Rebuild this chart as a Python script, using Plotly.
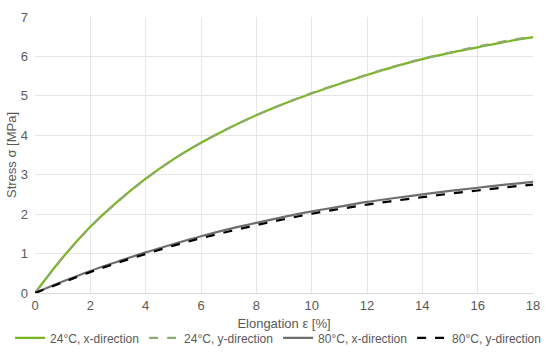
import plotly.graph_objects as go

elongation = list(range(0, 19))
s24_x = [0, 0.90, 1.68, 2.33, 2.90, 3.39, 3.81, 4.18, 4.51, 4.80, 5.06,
         5.30, 5.53, 5.74, 5.93, 6.09, 6.23, 6.37, 6.49]
s24_y = [0, 0.89, 1.67, 2.32, 2.89, 3.39, 3.81, 4.18, 4.51, 4.80, 5.07,
         5.31, 5.54, 5.75, 5.94, 6.10, 6.25, 6.39, 6.51]
s80_x = [0, 0.29, 0.56, 0.80, 1.03, 1.24, 1.44, 1.62, 1.78, 1.93, 2.07,
         2.19, 2.31, 2.41, 2.50, 2.59, 2.67, 2.75, 2.82]
s80_y = [0, 0.27, 0.53, 0.77, 0.99, 1.20, 1.39, 1.56, 1.72, 1.87, 2.01,
         2.13, 2.24, 2.34, 2.43, 2.52, 2.60, 2.68, 2.75]

names = ["24°C, x-direction", "24°C, y-direction", "80°C, x-direction", "80°C, y-direction"]
series = [s24_x, s24_y, s80_x, s80_y]
colors = ["#77B81F", "#8FAA6E", "#6E6E6E", "#000000"]
dashes = ["solid", "dash", "solid", "dash"]

fig = go.Figure()
for n, s, c, d in zip(names, series, colors, dashes):
    fig.add_trace(go.Scatter(x=elongation, y=s, name=n, mode="lines",
                             line=dict(color=c, width=2.2, dash=d, shape="spline")))

fig.update_layout(
    width=550, height=363,
    margin=dict(l=35, r=10, t=10, b=70),
    paper_bgcolor="white", plot_bgcolor="white",
    font=dict(family="Liberation Sans, Arial", size=13, color="#595959"),
    xaxis=dict(range=[0, 18], dtick=2, showgrid=True, gridcolor="#E6E6E6",
               zeroline=False, showline=True, linecolor="#D9D9D9",
               ticks="",
               title=dict(text="Elongation ε [%]", font=dict(size=13), standoff=7)),
    yaxis=dict(range=[0, 7], dtick=1, showgrid=True, gridcolor="#E6E6E6",
               zeroline=False, showline=False, ticks="", ticklabelstandoff=6,
               title=dict(text="Stress σ [MPa]", font=dict(size=13), standoff=1)),
    legend=dict(orientation="h", x=-0.05, xanchor="left",
                y=-0.11, yanchor="top", itemwidth=30,
                entrywidth=89, entrywidthmode="pixels",
                font=dict(size=12, color="#595959")),
    showlegend=True,
)

fig.write_html("out.html", config={"displayModeBar": False},
               post_script="document.body.style.margin='0';")
